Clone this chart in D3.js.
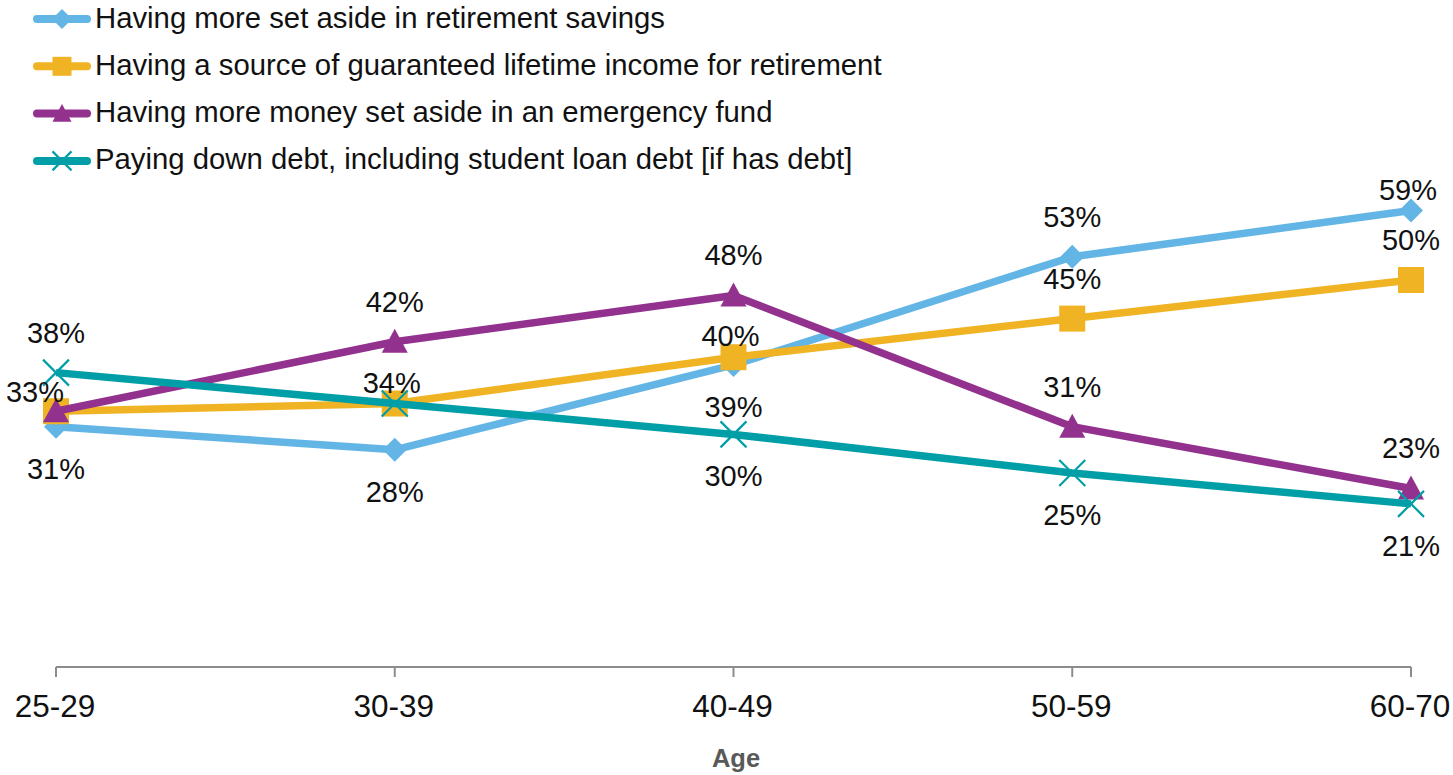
<!DOCTYPE html>
<html>
<head>
<meta charset="utf-8">
<script src="https://cdn.jsdelivr.net/npm/d3@7"></script>
<style>
  html, body { margin: 0; padding: 0; background: #fff; }
  svg { display: block; font-family: "Liberation Sans", Arial, sans-serif; }
</style>
</head>
<body>
<svg id="chart" width="1453" height="775"></svg>
<script>
// Age groups on the x axis
const categories = ["25-29", "30-39", "40-49", "50-59", "60-70"];

// Share of respondents (%) per age group
const retirementSavings = [31, 28, 39, 53, 59];
const guaranteedIncome = [33, 34, 40, 45, 50];
const emergencyFund = [33, 42, 48, 31, 23];
const payingDownDebt = [38, 34, 30, 25, 21];

const seriesNames = [
  "Having more set aside in retirement savings",
  "Having a source of guaranteed lifetime income for retirement",
  "Having more money set aside in an emergency fund",
  "Paying down debt, including student loan debt [if has debt]"
];

const axisTitle = "Age";

// Where each value label sits relative to its point (null = not shown)
const labelPlacement = [
  ["below", "below", "below", "above", "near"],
  ["left", "near", "near", "above", "above"],
  [null, "above", "above", "above", "above"],
  ["above", null, "below", "below", "below"]
];

const colors = ["#63b5e5", "#f0b323", "#93318e", "#009ea6"];
const markers = ["diamond", "square", "triangle", "cross"];

const svg = d3.select("#chart");

const x = d3.scalePoint().domain(categories).range([56, 1411]);
const y = d3.scaleLinear().domain([0, 80]).range([666, 48.4]);

const series = [retirementSavings, guaranteedIncome, emergencyFund, payingDownDebt].map((vals, i) => ({
  name: seriesNames[i],
  color: colors[i],
  marker: markers[i],
  placement: labelPlacement[i],
  values: vals.map((v, j) => ({ cat: categories[j], value: v }))
}));

// Category axis along the bottom
const axisG = svg.append("g").attr("transform", `translate(0,${y(0) + 1})`);
axisG.append("line")
  .attr("x1", x(categories[0])).attr("x2", x(categories[categories.length - 1]))
  .attr("stroke", "#8c8c8c").attr("stroke-width", 2);
axisG.selectAll("line.tick").data(categories).join("line")
  .attr("class", "tick")
  .attr("x1", d => x(d)).attr("x2", d => x(d))
  .attr("y1", 0).attr("y2", 10)
  .attr("stroke", "#8c8c8c").attr("stroke-width", 2);
svg.append("g").selectAll("text").data(categories).join("text")
  .attr("x", d => x(d) - 1)
  .attr("y", 717)
  .attr("text-anchor", "middle")
  .attr("font-size", 31.5)
  .attr("fill", "#111")
  .text(d => d);

svg.append("text")
  .attr("x", 736).attr("y", 767)
  .attr("text-anchor", "middle")
  .attr("font-size", 25.5).attr("font-weight", "bold")
  .attr("fill", "#595959")
  .text(axisTitle);

// Marker shapes
function markerPath(type, s) {
  const h = s / 2;
  switch (type) {
    case "diamond": return `M0,${-h}L${h},0L0,${h}L${-h},0Z`;
    case "square": return `M${-h},${-h}H${h}V${h}H${-h}Z`;
    case "triangle": return `M0,${-h}L${h},${h * 0.85}H${-h}Z`;
    case "cross": return `M${-h},${-h}L${h},${h}M${h},${-h}L${-h},${h}`;
  }
}
function drawMarker(g, type, color, s) {
  const p = g.append("path").attr("d", markerPath(type, s));
  if (type === "cross") {
    p.attr("fill", "none").attr("stroke", color).attr("stroke-width", 2.2);
  } else {
    p.attr("fill", color);
  }
}
const markerSize = { diamond: 24, square: 26, triangle: 26, cross: 26 };

const line = d3.line().x(d => x(d.cat)).y(d => y(d.value));

// Lines and markers, series drawn in order
series.forEach(s => {
  const g = svg.append("g");
  g.append("path")
    .datum(s.values)
    .attr("d", line)
    .attr("fill", "none")
    .attr("stroke", s.color)
    .attr("stroke-width", 7.5)
    .attr("stroke-linejoin", "round");
  s.values.forEach(d => {
    const mg = g.append("g").attr("transform", `translate(${x(d.cat)},${y(d.value)})`);
    drawMarker(mg, s.marker, s.color, markerSize[s.marker]);
  });
});

// Value labels
const offsets = {
  above: [0, -40],
  below: [0, 42],
  near: [-3, -21],
  left: [-21, -19]
};
series.forEach(s => {
  s.values.forEach((d, j) => {
    const pl = s.placement[j];
    if (!pl) return;
    const [dx, dy] = offsets[pl];
    svg.append("text")
      .attr("x", x(d.cat) + dx)
      .attr("y", y(d.value) + dy + 10)
      .attr("text-anchor", "middle")
      .attr("font-size", 29)
      .attr("fill", "#111")
      .text(d.value + "%");
  });
});

// Legend
const legend = svg.append("g");
series.forEach((s, i) => {
  const cy = 19 + i * 47.3;
  const row = legend.append("g").attr("transform", `translate(0,${cy})`);
  row.append("line")
    .attr("x1", 37).attr("x2", 87)
    .attr("stroke", s.color).attr("stroke-width", 8)
    .attr("stroke-linecap", "round");
  const mg = row.append("g").attr("transform", "translate(62,0)");
  drawMarker(mg, s.marker, s.color, s.marker === "diamond" ? 20 : 19);
  row.append("text")
    .attr("x", 95).attr("y", 8.5)
    .attr("font-size", 29.3)
    .attr("fill", "#111")
    .text(s.name);
});
</script>
</body>
</html>
